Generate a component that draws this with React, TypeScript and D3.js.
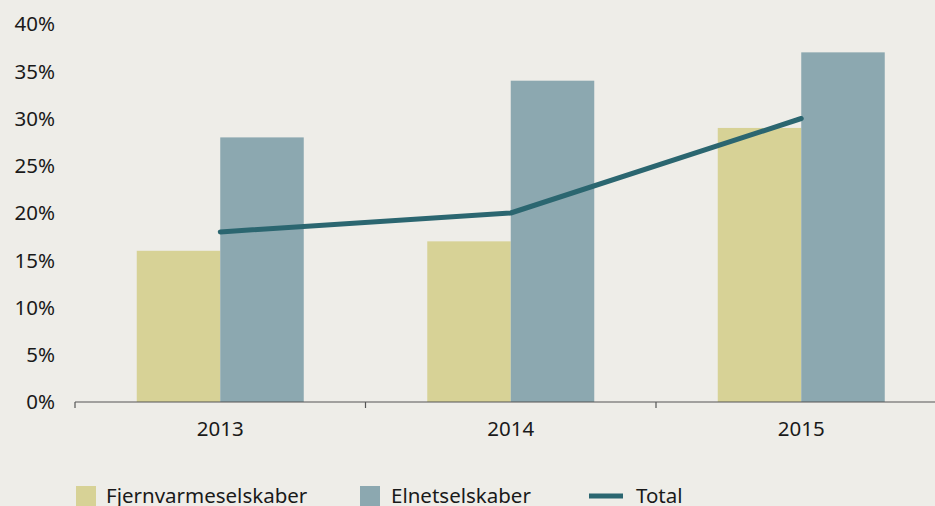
import React from "react";
import * as d3 from "d3";

const categories = ["2013", "2014", "2015"];
const seriesNames = ["Fjernvarmeselskaber", "Elnetselskaber"];
const fjernvarme = [16, 17, 29];
const elnet = [28, 34, 37];
const total = [18, 20, 30];
const yTicks = [0, 5, 10, 15, 20, 25, 30, 35, 40];

const W = 935;
const H = 506;
const colors = ["#d7d296", "#8ca8b0"];
const lineColor = "#2b6670";
const font = "'Noto Sans', 'Open Sans', sans-serif";
const FS = 20.5;

export default function App() {
  const x = d3.scaleBand<string>().domain(categories).range([75, 946.5]).padding(0);
  const inner = d3
    .scaleBand<string>()
    .domain(seriesNames)
    .range([61.75, x.bandwidth() - 61.75])
    .padding(0);
  const y = d3.scaleLinear().domain([0, 40]).range([402, 24]);
  const values = [fjernvarme, elnet];

  const line = d3
    .line<number>()
    .x((_, i) => (x(categories[i]) as number) + x.bandwidth() / 2)
    .y((d) => y(d))
    .curve(d3.curveLinear);

  const tickXs = categories.map((c) => x(c) as number);

  return (
    <svg
      width={W}
      height={H}
      style={{ position: "absolute", left: 0, top: 0, display: "block" }}
      fontFamily={font}
    >
      <rect x={0} y={0} width={W} height={H} fill="#eeede8" />
      {yTicks.map((t) => (
        <text key={t} x={55} y={y(t)} dy="0.36em" textAnchor="end" fontSize={FS} fill="#1a1a1a">
          {t}%
        </text>
      ))}
      {categories.map((c, ci) =>
        seriesNames.map((s, si) => (
          <rect
            key={c + s}
            x={(x(c) as number) + (inner(s) as number)}
            y={y(values[si][ci])}
            width={inner.bandwidth()}
            height={y(0) - y(values[si][ci])}
            fill={colors[si]}
          />
        ))
      )}
      <line x1={75} x2={W} y1={y(0)} y2={y(0)} stroke="#555" strokeWidth={1.2} />
      {tickXs.map((tx, i) => (
        <line key={i} x1={tx} x2={tx} y1={y(0)} y2={y(0) + 6} stroke="#555" strokeWidth={1.2} />
      ))}
      {categories.map((c) => (
        <text
          key={c}
          x={(x(c) as number) + x.bandwidth() / 2}
          y={436}
          textAnchor="middle"
          fontSize={FS}
          fill="#1a1a1a"
        >
          {c}
        </text>
      ))}
      <path
        d={line(total) || ""}
        fill="none"
        stroke={lineColor}
        strokeWidth={5}
        strokeLinecap="round"
        strokeLinejoin="round"
      />
      {/* legend */}
      <rect x={76} y={486} width={20} height={20} fill={colors[0]} />
      <text x={106} y={503} fontSize={FS} fill="#1a1a1a">
        {seriesNames[0]}
      </text>
      <rect x={360} y={486} width={20} height={20} fill={colors[1]} />
      <text x={391} y={503} fontSize={FS} fill="#1a1a1a">
        {seriesNames[1]}
      </text>
      <line x1={589} x2={623} y1={496} y2={496} stroke={lineColor} strokeWidth={5} />
      <text x={636} y={503} fontSize={FS} fill="#1a1a1a">
        Total
      </text>
    </svg>
  );
}
